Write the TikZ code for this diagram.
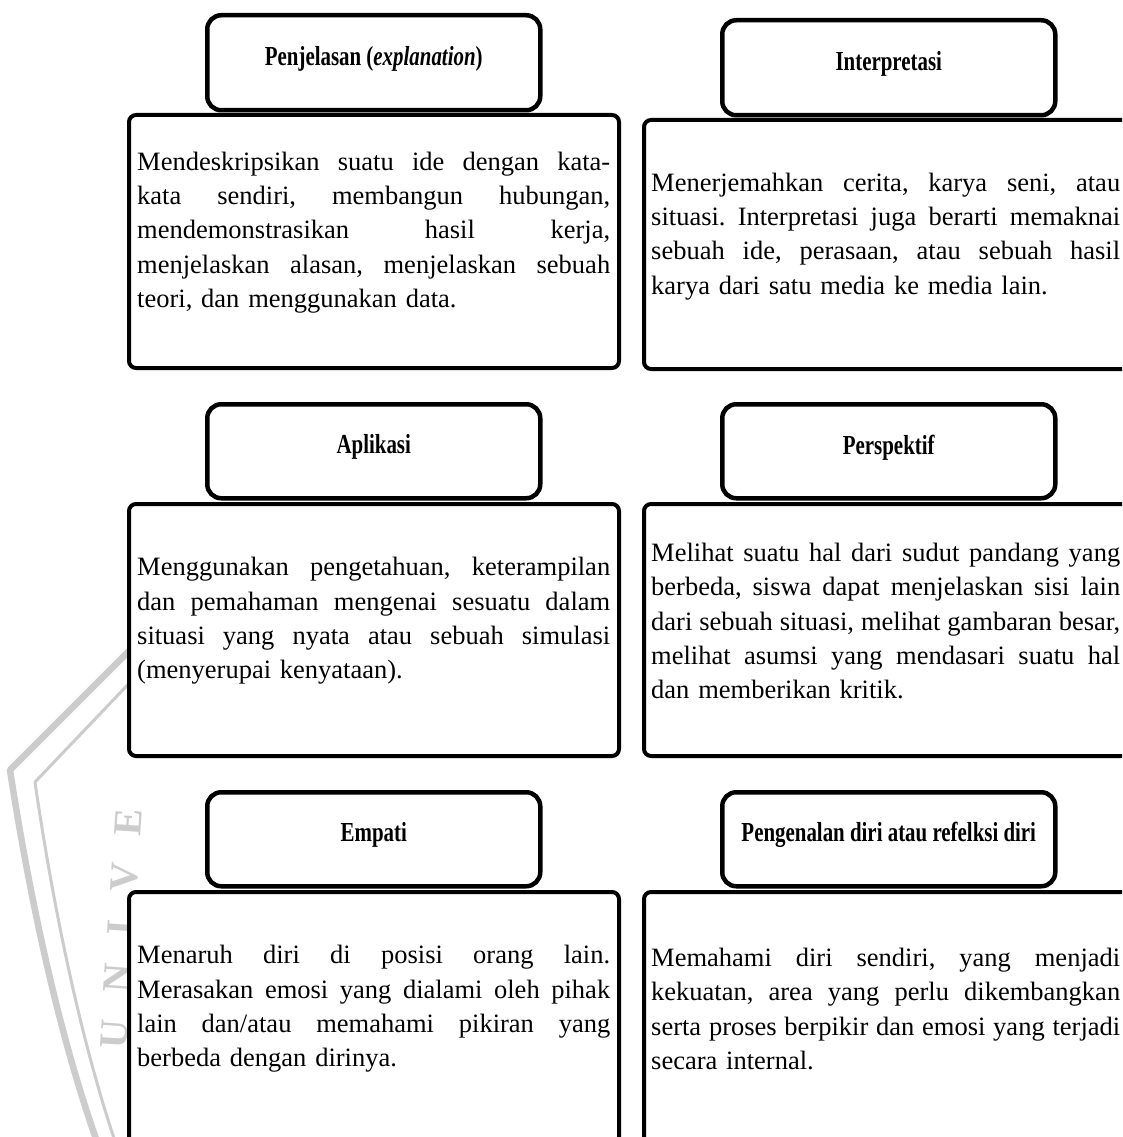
\documentclass[tikz,border=0pt]{standalone}
\usepackage{fontspec}
\setmainfont{Liberation Serif}
\newfontfamily\titlefont[FakeStretch=0.76]{Liberation Serif}
\newlength{\bodyw}
\setlength{\bodyw}{473pt}
\newcommand{\justln}[1]{\leavevmode\hbox to \bodyw{\spaceskip=0.25em plus 1fil minus 0.1em\relax #1}\\}
\newcommand{\lastln}[1]{\leavevmode\hbox to \bodyw{#1\hfil}}
\frenchspacing
\begin{document}
\begin{tikzpicture}[x=1pt,y=-1pt,
  titlebox/.style={draw, line width=4.5pt, rounded corners=14pt, fill=white, inner sep=0pt,
     minimum width=333pt, minimum height=95pt, anchor=north west},
  bodybox/.style={draw, line width=4pt, rounded corners=7pt, fill=white, inner sep=0pt,
     minimum width=490pt, minimum height=252pt, anchor=north west},
  titletext/.style={inner sep=0pt, font=\titlefont\bfseries\fontsize{27.5}{30}\selectfont},
  bodytext/.style={inner sep=0pt, anchor=west, text width=473pt, align=left,
     font=\fontsize{26.5}{34.3}\selectfont\setlength{\bodyw}{473pt}},
  rbodytext/.style={bodytext, text width=469pt,
     font=\fontsize{26.5}{34.3}\selectfont\setlength{\bodyw}{469pt}},
  wmline/.style={draw=black!20, line cap=round, line join=round}
]
\useasboundingbox (0,0) rectangle (1122,1137);
\clip (0,0) rectangle (1122,1137);
\fill[white] (0,0) rectangle (1122,1137);

% watermark
\coordinate (w1) at (140,640);
\coordinate (w2) at (10,770);
\coordinate (w3) at (100,1150);
\coordinate (w4) at (140,672);
\coordinate (w5) at (35,782);
\coordinate (w6) at (118,1150);
\draw[wmline, line width=6.5pt] (w1) -- (w2) .. controls (30,900) and (60,1040) .. (w3);
\draw[wmline, line width=3pt] (w4) -- (w5) .. controls (52,900) and (80,1040) .. (w6);
\node[rotate=86, anchor=base west, text=black!20, inner sep=0pt, font=\bfseries\fontsize{40}{40}\selectfont] (wm) at (126,1050) {U\hspace{28pt}N\hspace{28pt}I\hspace{28pt}V\hspace{28pt}E};

% row 1
\node[bodybox, minimum height=253pt] (bA) at (127,113) {};
\node[bodybox, minimum height=249pt] (bB) at (642,118) {};
\node[titlebox] (hA) at (205,13) {};
\node[titlebox] (hB) at (720,18) {};
\node[titletext] (tA) at ([yshift=4pt]hA.center) {Penjelasan (\textit{explanation})};
\node[titletext] (tB) at ([yshift=4pt]hB.center) {Interpretasi};
\node[bodytext] (xA) at ([xshift=10pt,yshift=9pt]bA.west) {%
\justln{Mendeskripsikan suatu ide dengan kata-}
\justln{kata sendiri, membangun hubungan,}
\justln{mendemonstrasikan hasil kerja,}
\justln{menjelaskan alasan, menjelaskan sebuah}
\lastln{teori, dan menggunakan data.}};
\node[rbodytext] (xB) at ([xshift=9pt,yshift=8pt]bB.west) {%
\justln{Menerjemahkan cerita, karya seni, atau}
\justln{situasi. Interpretasi juga berarti memaknai}
\justln{sebuah ide, perasaan, atau sebuah hasil}
\lastln{karya dari satu media ke media lain.}};

% row 2
\node[bodybox] (bC) at (127,502) {};
\node[bodybox] (bD) at (642,502) {};
\node[titlebox, minimum height=94pt] (hC) at (205,402) {};
\node[titlebox, minimum height=94pt] (hD) at (720,402) {};
\node[titletext] (tC) at ([yshift=4pt]hC.center) {Aplikasi};
\node[titletext] (tD) at ([yshift=4pt]hD.center) {Perspektif};
\node[bodytext] (xC) at ([xshift=10pt,yshift=9pt]bC.west) {%
\justln{Menggunakan pengetahuan, keterampilan}
\justln{dan pemahaman mengenai sesuatu dalam}
\justln{situasi yang nyata atau sebuah simulasi}
\lastln{(menyerupai kenyataan).}};
\node[rbodytext] (xD) at ([xshift=9pt,yshift=9pt]bD.west) {%
\justln{Melihat suatu hal dari sudut pandang yang}
\justln{berbeda, siswa dapat menjelaskan sisi lain}
\justln{dari sebuah situasi, melihat gambaran besar,}
\justln{melihat asumsi yang mendasari suatu hal}
\lastln{dan memberikan kritik.}};

% row 3
\node[bodybox] (bE) at (127,890) {};
\node[bodybox] (bF) at (642,890) {};
\node[titlebox, minimum height=94pt] (hE) at (205,790) {};
\node[titlebox, minimum height=94pt] (hF) at (720,790) {};
\node[titletext] (tE) at ([yshift=4pt]hE.center) {Empati};
\node[titletext] (tF) at ([yshift=4pt]hF.center) {Pengenalan diri atau refelksi diri};
\node[bodytext] (xE) at ([xshift=10pt,yshift=9pt]bE.west) {%
\justln{Menaruh diri di posisi orang lain.}
\justln{Merasakan emosi yang dialami oleh pihak}
\justln{lain dan/atau memahami pikiran yang}
\lastln{berbeda dengan dirinya.}};
\node[rbodytext] (xF) at ([xshift=9pt,yshift=9pt]bF.west) {%
\justln{Memahami diri sendiri, yang menjadi}
\justln{kekuatan, area yang perlu dikembangkan}
\justln{serta proses berpikir dan emosi yang terjadi}
\lastln{secara internal.}};
\end{tikzpicture}
\end{document}
